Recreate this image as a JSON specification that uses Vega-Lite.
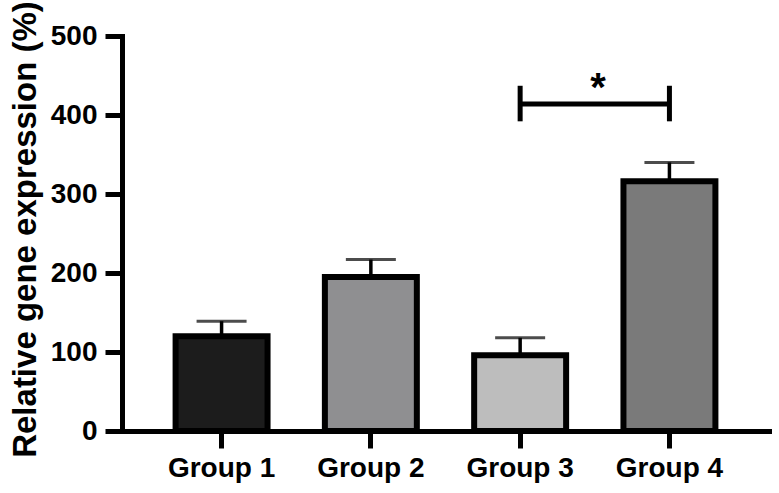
{
  "$schema": "https://vega.github.io/schema/vega-lite/v6.json",
  "autosize": {"type": "none"},
  "padding": {"left": 122, "top": 36, "right": 10, "bottom": 62},
  "width": 647,
  "height": 395,
  "background": "white",
  "config": {
    "view": {"stroke": null},
    "font": "Liberation Sans",
    "axis": {
      "domainColor": "black", "domainWidth": 5, "tickColor": "black", "tickWidth": 5, "tickSize": 17,
      "labelFont": "Liberation Sans", "labelFontWeight": "bold", "labelFontSize": 28, "labelColor": "black",
      "titleFont": "Liberation Sans", "titleFontWeight": "bold", "titleFontSize": 33, "titleColor": "black",
      "grid": false
    }
  },
  "data": {
    "values": [
      {"group": "Group 1", "value": 120, "upper": 139, "fill": "#1c1c1c"},
      {"group": "Group 2", "value": 195, "upper": 217, "fill": "#8f8f91"},
      {"group": "Group 3", "value": 96, "upper": 118, "fill": "#bdbdbd"},
      {"group": "Group 4", "value": 316, "upper": 340, "fill": "#7a7a7a"}
    ]
  },
  "encoding": {
    "x": {
      "field": "group", "type": "nominal", "sort": null,
      "scale": {"paddingInner": 0.384, "paddingOuter": 0.359},
      "axis": {"title": null, "labelAngle": 0, "labelPadding": 6, "domainCap": "square"}
    }
  },
  "layer": [
    {
      "mark": {"type": "rule", "color": "black", "strokeWidth": 3.5},
      "encoding": {
        "y": {"field": "value", "type": "quantitative"},
        "y2": {"field": "upper"}
      }
    },
    {
      "mark": {"type": "tick", "color": "black", "thickness": 3, "size": 50},
      "encoding": {
        "y": {"field": "upper", "type": "quantitative"}
      }
    },
    {
      "mark": {"type": "bar", "stroke": "black", "strokeWidth": 6},
      "encoding": {
        "y": {
          "field": "value", "type": "quantitative",
          "scale": {"domain": [0, 500], "nice": false},
          "axis": {"title": "Relative gene expression (%)", "values": [0, 100, 200, 300, 400, 500], "labelPadding": 8, "titleX": -87, "titleY": 193, "titleBaseline": "alphabetic", "titleAngle": -90, "domainCap": "square"}
        },
        "fill": {"field": "fill", "type": "nominal", "scale": null, "legend": null}
      }
    },
    {
      "data": {"values": [{"from": "Group 3", "to": "Group 4", "y": 414, "lo": 392, "hi": 437, "label": "*"}]},
      "layer": [
        {
          "mark": {"type": "rule", "color": "black", "strokeWidth": 5},
          "encoding": {
            "x": {"field": "from", "type": "nominal", "sort": null},
            "x2": {"field": "to"},
            "y": {"field": "y", "type": "quantitative"}
          }
        },
        {
          "mark": {"type": "rule", "color": "black", "strokeWidth": 5},
          "encoding": {
            "x": {"field": "from", "type": "nominal", "sort": null},
            "y": {"field": "lo", "type": "quantitative"},
            "y2": {"field": "hi"}
          }
        },
        {
          "mark": {"type": "rule", "color": "black", "strokeWidth": 5},
          "encoding": {
            "x": {"field": "to", "type": "nominal", "sort": null},
            "y": {"field": "lo", "type": "quantitative"},
            "y2": {"field": "hi"}
          }
        },
        {
          "mark": {"type": "text", "fontSize": 40, "fontWeight": "bold", "baseline": "alphabetic", "align": "center", "dx": 78, "dy": -3, "color": "black"},
          "encoding": {
            "x": {"field": "from", "type": "nominal", "sort": null},
            "y": {"field": "y", "type": "quantitative"},
            "text": {"field": "label"}
          }
        }
      ]
    }
  ]
}
